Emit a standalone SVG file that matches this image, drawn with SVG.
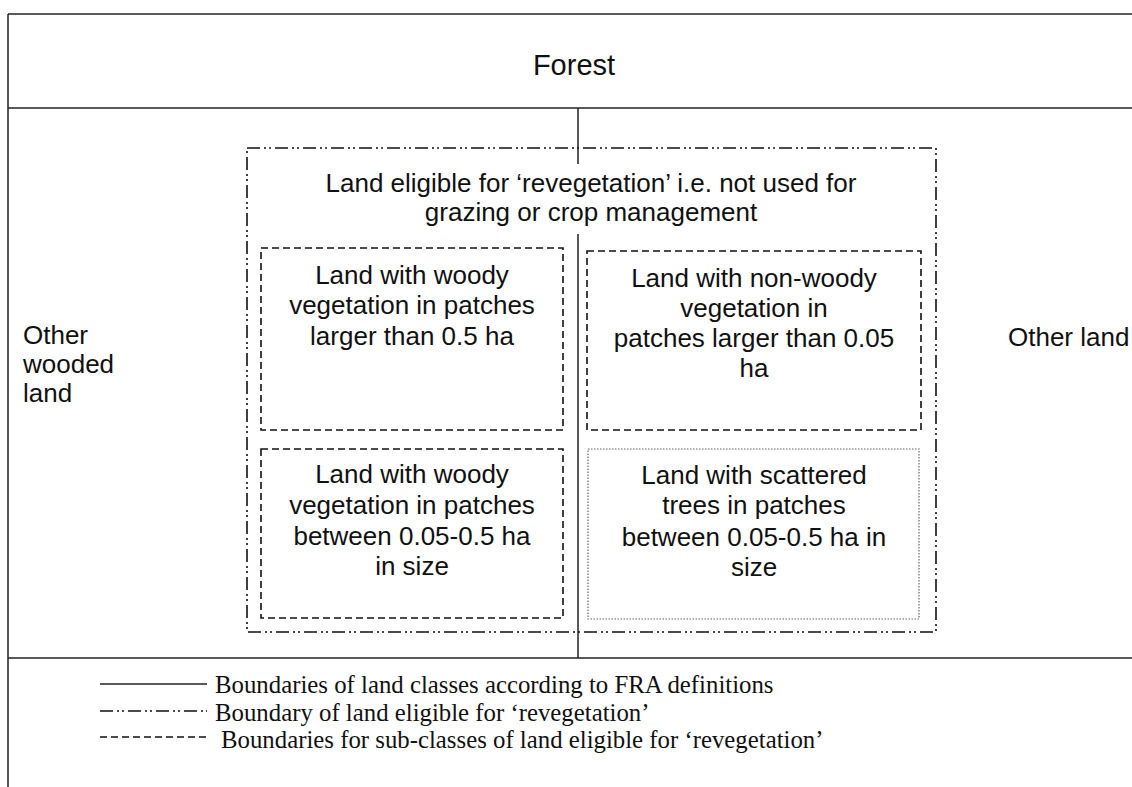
<svg xmlns="http://www.w3.org/2000/svg" width="1132" height="787" viewBox="0 0 1132 787">
<style>
.solid{stroke:#222;stroke-width:1.5;fill:none}
.dd{stroke:#111;stroke-width:1.6;fill:none;stroke-dasharray:13 4 2 3 2 4}
.dash{stroke:#111;stroke-width:1.6;fill:none;stroke-dasharray:7 4}
.dot{stroke:#666;stroke-width:1.2;fill:none;stroke-dasharray:1.5 1.5}
.t{font-family:'Liberation Sans',Arial,sans-serif;font-size:26px;fill:#111}
.c{text-anchor:middle}
.leg{font-family:'Liberation Serif','Times New Roman',serif;font-size:24.8px;fill:#111}
</style>
<rect width="1132" height="787" fill="#fff"/>
<g id="connectors">
<line class="solid" x1="8" y1="14" x2="1132" y2="14"/>
<line class="solid" x1="8" y1="14" x2="8" y2="787"/>
<line class="solid" x1="8" y1="108" x2="1132" y2="108"/>
<line class="solid" x1="578" y1="108" x2="578" y2="164"/>
<line class="solid" x1="578" y1="234" x2="578" y2="658"/>
<line class="solid" x1="8" y1="658" x2="1132" y2="658"/>
</g>
<g id="forest"><text class="t c" x="574" y="75" style="font-size:29px">Forest</text></g>
<g id="other-wooded-land">
<text class="t" x="23" y="344">Other</text>
<text class="t" x="23" y="373">wooded</text>
<text class="t" x="23" y="402">land</text>
</g>
<g id="other-land"><text class="t" x="1008" y="346">Other land</text></g>
<g id="eligible">
<rect class="dd" x="247" y="148" width="689" height="484"/>
<text class="t c" x="591" y="192">Land eligible for ‘revegetation’ i.e. not used for</text>
<text class="t c" x="591" y="221">grazing or crop management</text>
</g>
<g id="woody-large">
<rect class="dash" x="261" y="248" width="302" height="182"/>
<text class="t c" x="412" y="284">Land with woody</text>
<text class="t c" x="412" y="314">vegetation in patches</text>
<text class="t c" x="412" y="345">larger than 0.5 ha</text>
</g>
<g id="nonwoody">
<rect class="dash" x="587" y="251" width="334" height="179"/>
<text class="t c" x="754" y="287">Land with non-woody</text>
<text class="t c" x="754" y="317">vegetation in</text>
<text class="t c" x="754" y="347">patches larger than 0.05</text>
<text class="t c" x="754" y="377">ha</text>
</g>
<g id="woody-small">
<rect class="dash" x="261" y="449" width="302" height="169"/>
<text class="t c" x="412" y="483">Land with woody</text>
<text class="t c" x="412" y="514">vegetation in patches</text>
<text class="t c" x="412" y="545">between 0.05-0.5 ha</text>
<text class="t c" x="412" y="575">in size</text>
</g>
<g id="scattered">
<rect class="dot" x="588" y="449" width="331" height="170"/>
<text class="t c" x="754" y="484">Land with scattered</text>
<text class="t c" x="754" y="514">trees in patches</text>
<text class="t c" x="754" y="546">between 0.05-0.5 ha in</text>
<text class="t c" x="754" y="576">size</text>
</g>
<g id="legend">
<line class="solid" x1="100" y1="684" x2="207" y2="684"/>
<line class="dd" x1="100" y1="711" x2="207" y2="711"/>
<line class="dash" x1="100" y1="737" x2="207" y2="737"/>
<text class="leg" x="215" y="693">Boundaries of land classes according to FRA definitions</text>
<text class="leg" x="215" y="720.5">Boundary of land eligible for ‘revegetation’</text>
<text class="leg" x="221" y="748">Boundaries for sub-classes of land eligible for ‘revegetation’</text>
</g>
</svg>
